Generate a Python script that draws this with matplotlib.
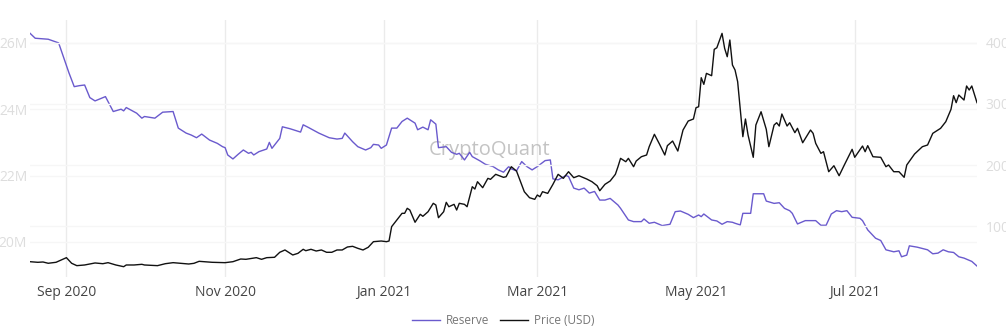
import matplotlib
matplotlib.use('Agg')
import matplotlib.pyplot as plt
import matplotlib.dates as mdates
import pandas as pd

# 交易所储备量 (单位: 百万)
reserve_dates = [
    "2020-08-18", "2020-08-20", "2020-08-25", "2020-08-29", "2020-09-02", "2020-09-04",
    "2020-09-06", "2020-09-08", "2020-09-10", "2020-09-12", "2020-09-16", "2020-09-19",
    "2020-09-22", "2020-09-23", "2020-09-24", "2020-09-28", "2020-09-30", "2020-10-01",
    "2020-10-05", "2020-10-08", "2020-10-12", "2020-10-14", "2020-10-17", "2020-10-19",
    "2020-10-21", "2020-10-23", "2020-10-26", "2020-10-29", "2020-10-31", "2020-11-01",
    "2020-11-02", "2020-11-04", "2020-11-06", "2020-11-08", "2020-11-10", "2020-11-11",
    "2020-11-12", "2020-11-14", "2020-11-17", "2020-11-18", "2020-11-19", "2020-11-21",
    "2020-11-22", "2020-11-23", "2020-11-26", "2020-11-30", "2020-12-01", "2020-12-03",
    "2020-12-07", "2020-12-11", "2020-12-14", "2020-12-16", "2020-12-17", "2020-12-20",
    "2020-12-22", "2020-12-25", "2020-12-27", "2020-12-28", "2020-12-30", "2020-12-31",
    "2021-01-02", "2021-01-04", "2021-01-06", "2021-01-08", "2021-01-10", "2021-01-13",
    "2021-01-14", "2021-01-16", "2021-01-18", "2021-01-19", "2021-01-21", "2021-01-22",
    "2021-01-25", "2021-01-27", "2021-01-29", "2021-01-30", "2021-02-01", "2021-02-03",
    "2021-02-04", "2021-02-07", "2021-02-09", "2021-02-12", "2021-02-14", "2021-02-16",
    "2021-02-18", "2021-02-19", "2021-02-21", "2021-02-23", "2021-02-25", "2021-02-27",
    "2021-03-01", "2021-03-04", "2021-03-06", "2021-03-07", "2021-03-09", "2021-03-12",
    "2021-03-13", "2021-03-15", "2021-03-17", "2021-03-19", "2021-03-21", "2021-03-23",
    "2021-03-25", "2021-03-27", "2021-03-29", "2021-04-01", "2021-04-02", "2021-04-05",
    "2021-04-07", "2021-04-10", "2021-04-11", "2021-04-13", "2021-04-15", "2021-04-18",
    "2021-04-21", "2021-04-23", "2021-04-25", "2021-04-28", "2021-04-30", "2021-05-02",
    "2021-05-03", "2021-05-04", "2021-05-07", "2021-05-09", "2021-05-11", "2021-05-13",
    "2021-05-15", "2021-05-16", "2021-05-18", "2021-05-19", "2021-05-22", "2021-05-23",
    "2021-05-27", "2021-05-28", "2021-05-31", "2021-06-02", "2021-06-04", "2021-06-06",
    "2021-06-07", "2021-06-09", "2021-06-12", "2021-06-16", "2021-06-18", "2021-06-20",
    "2021-06-22", "2021-06-24", "2021-06-26", "2021-06-28", "2021-06-30", "2021-07-03",
    "2021-07-04", "2021-07-06", "2021-07-09", "2021-07-11", "2021-07-13", "2021-07-16",
    "2021-07-18", "2021-07-19", "2021-07-21", "2021-07-22", "2021-07-25", "2021-07-29",
    "2021-07-31", "2021-08-02", "2021-08-04", "2021-08-06", "2021-08-08", "2021-08-10",
    "2021-08-12", "2021-08-15", "2021-08-17",
]
reserve_values = [
    26.29, 26.14, 26.11, 26.00, 25.09, 24.68,
    24.71, 24.73, 24.35, 24.25, 24.38, 23.93,
    24.00, 23.95, 24.05, 23.88, 23.73, 23.78,
    23.73, 23.91, 23.93, 23.43, 23.28, 23.22,
    23.14, 23.25, 23.07, 22.97, 22.87, 22.84,
    22.62, 22.50, 22.64, 22.77, 22.67, 22.70,
    22.62, 22.72, 22.80, 23.00, 22.82, 23.02,
    23.12, 23.47, 23.41, 23.31, 23.53, 23.45,
    23.28, 23.14, 23.10, 23.12, 23.28, 23.02,
    22.87, 22.77, 22.84, 22.94, 22.92, 22.82,
    22.92, 23.43, 23.43, 23.63, 23.73, 23.58,
    23.38, 23.46, 23.38, 23.68, 23.55, 22.84,
    22.87, 22.70, 22.64, 22.67, 22.47, 22.70,
    22.57, 22.44, 22.34, 22.27, 22.17, 22.10,
    22.27, 22.20, 22.14, 22.42, 22.27, 22.17,
    22.27, 22.45, 22.47, 21.90, 21.87, 22.00,
    21.97, 21.62, 21.57, 21.62, 21.47, 21.52,
    21.26, 21.26, 21.31, 21.11, 21.01, 20.66,
    20.61, 20.61, 20.69, 20.56, 20.59, 20.49,
    20.53, 20.91, 20.93, 20.83, 20.73, 20.81,
    20.76, 20.84, 20.66, 20.63, 20.53, 20.61,
    20.59, 20.56, 20.51, 20.86, 20.86, 21.45,
    21.45, 21.23, 21.16, 21.18, 21.01, 20.94,
    20.86, 20.54, 20.64, 20.64, 20.50, 20.50,
    20.84, 20.94, 20.91, 20.94, 20.74, 20.71,
    20.64, 20.36, 20.11, 20.04, 19.76, 19.70,
    19.73, 19.55, 19.60, 19.88, 19.84, 19.76,
    19.64, 19.66, 19.76, 19.70, 19.68, 19.55,
    19.51, 19.41, 19.27,
]

# 价格 (USD)
price_dates = [
    "2020-08-18", "2020-08-21", "2020-08-23", "2020-08-25", "2020-08-28", "2020-08-30",
    "2020-09-01", "2020-09-03", "2020-09-05", "2020-09-08", "2020-09-12", "2020-09-15",
    "2020-09-17", "2020-09-20", "2020-09-23", "2020-09-24", "2020-09-27", "2020-09-30",
    "2020-10-01", "2020-10-06", "2020-10-09", "2020-10-12", "2020-10-18", "2020-10-20",
    "2020-10-22", "2020-10-27", "2020-11-01", "2020-11-04", "2020-11-07", "2020-11-09",
    "2020-11-13", "2020-11-15", "2020-11-17", "2020-11-20", "2020-11-22", "2020-11-24",
    "2020-11-27", "2020-11-29", "2020-12-01", "2020-12-02", "2020-12-04", "2020-12-06",
    "2020-12-08", "2020-12-10", "2020-12-12", "2020-12-14", "2020-12-16", "2020-12-18",
    "2020-12-20", "2020-12-22", "2020-12-24", "2020-12-26", "2020-12-28", "2020-12-31",
    "2021-01-02", "2021-01-03", "2021-01-04", "2021-01-06", "2021-01-08", "2021-01-09",
    "2021-01-10", "2021-01-11", "2021-01-13", "2021-01-15", "2021-01-16", "2021-01-18",
    "2021-01-20", "2021-01-21", "2021-01-22", "2021-01-24", "2021-01-25", "2021-01-26",
    "2021-01-28", "2021-01-29", "2021-01-30", "2021-02-01", "2021-02-02", "2021-02-04",
    "2021-02-05", "2021-02-06", "2021-02-08", "2021-02-10", "2021-02-11", "2021-02-13",
    "2021-02-16", "2021-02-17", "2021-02-19", "2021-02-21", "2021-02-23", "2021-02-24",
    "2021-02-26", "2021-02-28", "2021-03-01", "2021-03-02", "2021-03-03", "2021-03-05",
    "2021-03-07", "2021-03-09", "2021-03-11", "2021-03-12", "2021-03-13", "2021-03-15",
    "2021-03-17", "2021-03-20", "2021-03-22", "2021-03-24", "2021-03-25", "2021-03-27",
    "2021-03-29", "2021-03-31", "2021-04-01", "2021-04-02", "2021-04-04", "2021-04-05",
    "2021-04-07", "2021-04-08", "2021-04-10", "2021-04-12", "2021-04-13", "2021-04-15",
    "2021-04-17", "2021-04-19", "2021-04-20", "2021-04-22", "2021-04-24", "2021-04-26",
    "2021-04-28", "2021-04-30", "2021-05-01", "2021-05-02", "2021-05-03", "2021-05-04",
    "2021-05-05", "2021-05-07", "2021-05-08", "2021-05-09", "2021-05-11", "2021-05-12",
    "2021-05-13", "2021-05-14", "2021-05-15", "2021-05-16", "2021-05-17", "2021-05-19",
    "2021-05-20", "2021-05-21", "2021-05-23", "2021-05-24", "2021-05-26", "2021-05-28",
    "2021-05-29", "2021-05-31", "2021-06-01", "2021-06-02", "2021-06-03", "2021-06-05",
    "2021-06-06", "2021-06-08", "2021-06-09", "2021-06-11", "2021-06-14", "2021-06-15",
    "2021-06-16", "2021-06-18", "2021-06-19", "2021-06-21", "2021-06-23", "2021-06-25",
    "2021-06-27", "2021-06-30", "2021-07-01", "2021-07-04", "2021-07-05", "2021-07-06",
    "2021-07-08", "2021-07-11", "2021-07-13", "2021-07-14", "2021-07-16", "2021-07-18",
    "2021-07-20", "2021-07-21", "2021-07-24", "2021-07-27", "2021-07-29", "2021-07-31",
    "2021-08-03", "2021-08-05", "2021-08-07", "2021-08-08", "2021-08-09", "2021-08-10",
    "2021-08-12", "2021-08-13", "2021-08-14", "2021-08-15", "2021-08-17",
]
price_values = [
    415, 405, 410, 389, 405, 443,
    481, 389, 350, 361, 394, 382,
    399, 361, 333, 361, 361, 372,
    361, 350, 382, 399, 377, 388,
    421, 405, 399, 415, 459, 454,
    481, 454, 481, 487, 569, 607,
    525, 552, 618, 595, 618, 590,
    607, 569, 569, 607, 607, 656,
    667, 634, 607, 651, 743, 754,
    743, 754, 989, 1098, 1208, 1208,
    1290, 1262, 1061, 1192, 1159, 1234,
    1372, 1344, 1136, 1234, 1388, 1316,
    1355, 1262, 1372, 1355, 1316, 1644,
    1606, 1726, 1628, 1781, 1765, 1847,
    1798, 1808, 1972, 1901, 1672, 1562,
    1464, 1437, 1508, 1480, 1562, 1535,
    1683, 1847, 1781, 1836, 1890, 1792,
    1824, 1770, 1726, 1660, 1578, 1683,
    1738, 1847, 1972, 2109, 2054, 2109,
    1972, 2065, 2136, 2164, 2300, 2503,
    2339, 2164, 2317, 2393, 2229, 2573,
    2721, 2754, 2939, 2955, 3431, 3322,
    3502, 3464, 3896, 3922, 4158, 3912,
    3775, 4049, 3639, 3557, 3366, 2464,
    2754, 2491, 2126, 2655, 2873, 2585,
    2300, 2655, 2693, 2639, 2836, 2639,
    2693, 2530, 2601, 2365, 2573, 2519,
    2355, 2191, 2218, 1890, 1988, 1824,
    2000, 2257, 2126, 2311, 2218, 2317,
    2136, 2126, 1972, 2000, 1890, 1890,
    1798, 2000, 2180, 2300, 2328, 2519,
    2601, 2710, 2912, 3136, 3022, 3147,
    3065, 3295, 3229, 3295, 3022,
]

tick_dates = ["2020-09-01", "2020-11-01", "2021-01-01", "2021-03-01", "2021-05-01", "2021-07-01"]
reserve_ticks = [20, 22, 24, 26]
price_ticks = [1000, 2000, 3000, 4000]

W, H = 1006, 334
fig = plt.figure(figsize=(W / 100, H / 100), dpi=100)
plt.rcParams['font.family'] = ['Open Sans', 'DejaVu Sans']

ax = fig.add_axes([30 / W, 1 - 277 / H, 947 / W, 257 / H])
ax2 = ax.twinx()

rd = pd.to_datetime(reserve_dates)
pdt = pd.to_datetime(price_dates)

l1, = ax.plot(rd, reserve_values, color='#6a5acd', lw=1.0, label='Reserve')
l2, = ax2.plot(pdt, price_values, color='#111111', lw=1.0, label='Price (USD)')

ax.set_xlim(pd.Timestamp("2020-08-18"), pd.Timestamp("2021-08-17"))
ax.set_ylim(18.94, 26.69)
ax2.set_ylim(164, 4377)

# 网格线
for d in pd.to_datetime(tick_dates):
    ax.axvline(d, color='#ebebeb', lw=1.0, zorder=0)
for v in reserve_ticks:
    ax.axhline(v, color='#f6f6f6', lw=1.0, zorder=0)
for v in price_ticks:
    ax2.axhline(v, color='#f6f6f6', lw=1.0, zorder=0)

ax.set_xticks(pd.to_datetime(tick_dates))
ax.xaxis.set_major_formatter(mdates.DateFormatter('%b %Y'))
ax.set_yticks(reserve_ticks)
ax.set_yticklabels([f"{v}M" for v in reserve_ticks])
ax2.set_yticks(price_ticks)
ax2.set_yticklabels([str(v) for v in price_ticks])

ax.tick_params(axis='x', length=0, pad=6, labelsize=10, labelcolor='#444444')
ax.tick_params(axis='y', length=0, pad=2, labelsize=10, labelcolor='#dddddd')
ax2.tick_params(axis='y', length=0, pad=6, labelsize=10, labelcolor='#dddddd')

for a in (ax, ax2):
    for s in a.spines.values():
        s.set_visible(False)

# 水印
ax.text(0.485, 0.494, "CryptoQuant", transform=ax.transAxes, ha='center', va='center',
        fontsize=14.5, color='#b5b5b5', alpha=0.8, zorder=0)

fig.legend([l1, l2], ['Reserve', 'Price (USD)'], loc='center', bbox_to_anchor=(0.5, 1 - 321 / H),
           ncol=2, frameon=False, fontsize=8.5, handlelength=2.4, handletextpad=0.5,
           columnspacing=0.9, labelcolor='#777777')

fig.savefig("out.png", dpi=100)
